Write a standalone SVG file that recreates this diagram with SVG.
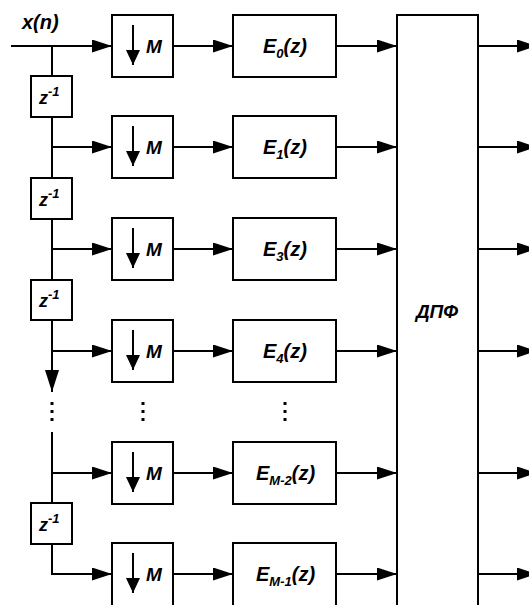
<svg xmlns="http://www.w3.org/2000/svg" width="529" height="605" viewBox="0 0 529 605">
<defs>
<marker id="ah" markerUnits="userSpaceOnUse" markerWidth="20" markerHeight="13" refX="20" refY="6.5" orient="auto">
<path d="M0,0 L20,6.5 L0,13 Z" fill="#000"/>
</marker>
<marker id="sh" markerUnits="userSpaceOnUse" markerWidth="15" markerHeight="14" refX="15" refY="7" orient="auto">
<path d="M0,0 L15,7 L0,14 Z" fill="#000"/>
</marker>
<marker id="dh" markerUnits="userSpaceOnUse" markerWidth="22" markerHeight="14" refX="22" refY="7" orient="auto">
<path d="M0,0 L22,7 L0,14 Z" fill="#000"/>
</marker>
<style>
.box{fill:#fff;stroke:#000;stroke-width:2}
.ln{fill:none;stroke:#000;stroke-width:2}
.ar{fill:none;stroke:#000;stroke-width:2;marker-end:url(#ah)}
.t{font-family:"Liberation Sans",Arial,sans-serif;font-weight:bold;font-style:italic;font-size:20px;fill:#000}
.m{font-size:19px}
.z{font-size:18px}
.sub{font-size:13px}
.dot{fill:#000}
</style>
</defs>
<rect width="529" height="605" fill="#fff"/>

<g id="connectors">
<path class="ar" d="M11 46 H112"/>
<path class="ln" d="M52 46 V76"/>
<path class="ln" d="M52 117 V178"/>
<path class="ln" d="M52 219 V280"/>
<path class="ln" d="M52 320 V392" marker-end="url(#dh)"/>
<path class="ln" d="M52 432 V503"/>
<path class="ar" d="M52 147 H112"/>
<path class="ar" d="M52 249 H112"/>
<path class="ar" d="M52 351 H112"/>
<path class="ar" d="M52 473 H112"/>
<path class="ar" d="M52 544 V574 H112"/>
<path class="ar" d="M173 46 H233"/>
<path class="ar" d="M173 147 H233"/>
<path class="ar" d="M173 249 H233"/>
<path class="ar" d="M173 351 H233"/>
<path class="ar" d="M173 473 H233"/>
<path class="ar" d="M173 574 H233"/>
<path class="ar" d="M336 46 H397"/>
<path class="ar" d="M336 147 H397"/>
<path class="ar" d="M336 249 H397"/>
<path class="ar" d="M336 351 H397"/>
<path class="ar" d="M336 473 H397"/>
<path class="ar" d="M336 574 H397"/>
<path class="ar" d="M478 46 H537"/>
<path class="ar" d="M478 147 H537"/>
<path class="ar" d="M478 249 H537"/>
<path class="ar" d="M478 351 H537"/>
<path class="ar" d="M478 473 H537"/>
<path class="ar" d="M478 574 H537"/>
</g>

<g id="dots">
<rect class="dot" x="50.5" y="402" width="3" height="3"/>
<rect class="dot" x="50.5" y="410" width="3" height="3"/>
<rect class="dot" x="50.5" y="418" width="3" height="3"/>
<rect class="dot" x="141.5" y="402" width="3" height="3"/>
<rect class="dot" x="141.5" y="410" width="3" height="3"/>
<rect class="dot" x="141.5" y="418" width="3" height="3"/>
<rect class="dot" x="283.5" y="402" width="3" height="3"/>
<rect class="dot" x="283.5" y="410" width="3" height="3"/>
<rect class="dot" x="283.5" y="418" width="3" height="3"/>
</g>

<g id="input"><text class="t" x="22" y="29">x(n)</text></g>

<g id="z1"><rect class="box" x="31" y="76" width="41" height="41"/><text class="t z" x="39" y="104">z<tspan class="sub" dy="-8">-1</tspan></text></g>
<g id="z2"><rect class="box" x="31" y="178" width="41" height="41"/><text class="t z" x="39" y="206">z<tspan class="sub" dy="-8">-1</tspan></text></g>
<g id="z3"><rect class="box" x="31" y="280" width="41" height="40"/><text class="t z" x="39" y="307">z<tspan class="sub" dy="-8">-1</tspan></text></g>
<g id="z4"><rect class="box" x="31" y="503" width="41" height="41"/><text class="t z" x="39" y="531">z<tspan class="sub" dy="-8">-1</tspan></text></g>

<g id="m0"><rect class="box" x="112" y="15" width="61" height="62"/><path class="ln" d="M133 25 V65" marker-end="url(#sh)"/><text class="t m" x="146" y="53">M</text></g>
<g id="m1"><rect class="box" x="112" y="116" width="61" height="62"/><path class="ln" d="M133 126 V166" marker-end="url(#sh)"/><text class="t m" x="146" y="154">M</text></g>
<g id="m2"><rect class="box" x="112" y="218" width="61" height="62"/><path class="ln" d="M133 228 V268" marker-end="url(#sh)"/><text class="t m" x="146" y="256">M</text></g>
<g id="m3"><rect class="box" x="112" y="320" width="61" height="62"/><path class="ln" d="M133 330 V370" marker-end="url(#sh)"/><text class="t m" x="146" y="358">M</text></g>
<g id="m4"><rect class="box" x="112" y="442" width="61" height="62"/><path class="ln" d="M133 452 V492" marker-end="url(#sh)"/><text class="t m" x="146" y="480">M</text></g>
<g id="m5"><rect class="box" x="112" y="543" width="61" height="80"/><path class="ln" d="M133 553 V593" marker-end="url(#sh)"/><text class="t m" x="146" y="581">M</text></g>

<g id="e0"><rect class="box" x="233" y="15" width="103" height="62"/><text class="t" x="263" y="53">E<tspan class="sub" dy="5">0</tspan><tspan dy="-5">(z)</tspan></text></g>
<g id="e1"><rect class="box" x="233" y="116" width="103" height="62"/><text class="t" x="263" y="154">E<tspan class="sub" dy="5">1</tspan><tspan dy="-5">(z)</tspan></text></g>
<g id="e3"><rect class="box" x="233" y="218" width="103" height="62"/><text class="t" x="263" y="256">E<tspan class="sub" dy="5">3</tspan><tspan dy="-5">(z)</tspan></text></g>
<g id="e4"><rect class="box" x="233" y="320" width="103" height="62"/><text class="t" x="263" y="358">E<tspan class="sub" dy="5">4</tspan><tspan dy="-5">(z)</tspan></text></g>
<g id="em2"><rect class="box" x="233" y="442" width="103" height="62"/><text class="t" x="256" y="480">E<tspan class="sub" dy="5">M-2</tspan><tspan dy="-5">(z)</tspan></text></g>
<g id="em1"><rect class="box" x="233" y="543" width="103" height="80"/><text class="t" x="256" y="581">E<tspan class="sub" dy="5">M-1</tspan><tspan dy="-5">(z)</tspan></text></g>

<g id="dft"><rect class="box" x="397" y="15" width="81" height="610"/><text class="t m" x="437" y="318" text-anchor="middle">ДПФ</text></g>
</svg>
